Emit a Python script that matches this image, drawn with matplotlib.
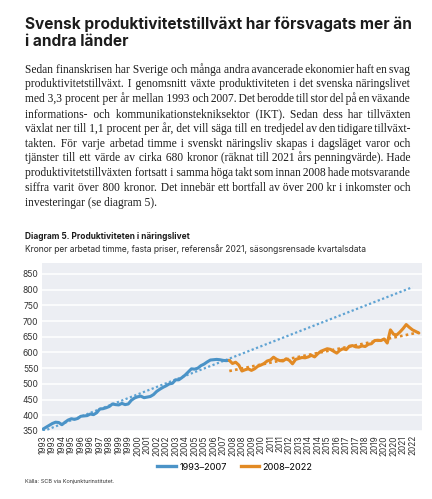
import matplotlib.pyplot as plt
from matplotlib.lines import Line2D

# quarterly index 0 = 1993 Q1
blue_x = list(range(0, 60))
blue_y = [356, 362, 368, 374, 378, 377, 370, 378, 385, 389,
          387, 390, 397, 398, 399, 404, 402, 408, 420, 421,
          424, 428, 436, 434, 433, 438, 434, 436, 448, 455,
          459, 461, 456, 458, 460, 466, 476, 483, 489, 494,
          500, 502, 513, 513, 520, 528, 538, 548, 547, 550,
          558, 563, 570, 576, 577, 578, 577, 575, 574, 575]

orange_x = list(range(59, 120))
orange_y = [575, 565, 569, 560, 541, 545, 548, 543, 548, 556,
            560, 565, 573, 576, 585, 578, 574, 573, 580, 575,
            564, 578, 581, 584, 583, 586, 591, 586, 596, 604,
            608, 612, 610, 604, 598, 607, 612, 609, 620, 622,
            618, 617, 621, 619, 626, 628, 638, 639, 638, 643,
            630, 672, 658, 656, 665, 676, 689, 680, 672, 667,
            662]

# trend lines (start / end)
blue_trend_x = [0, 117]
blue_trend_y = [349, 808]
orange_trend_x = [59, 119]
orange_trend_y = [541, 664]

tick_pos = list(range(0, 120, 3))
tick_labels = ['1993', '1993', '1994', '1995', '1996', '1996', '1997', '1998',
               '1999', '1999', '2000', '2001', '2002', '2002', '2003', '2004',
               '2005', '2005', '2006', '2007', '2008', '2008', '2009', '2010',
               '2011', '2011', '2012', '2013', '2014', '2014', '2015', '2016',
               '2017', '2017', '2018', '2019', '2020', '2020', '2021', '2022']

title_lines = ['Svensk produktivitetstillväxt har försvagats mer än',
               'i andra länder']
body_lines = [
    'Sedan finanskrisen har Sverige och många andra avancerade ekonomier haft en svag',
    'produktivitetstillväxt. I genomsnitt växte produktiviteten i det svenska näringslivet',
    'med 3,3 procent per år mellan 1993 och 2007. Det berodde till stor del på en växande',
    'informations- och kommunikationstekniksektor (IKT). Sedan dess har tillväxten',
    'växlat ner till 1,1 procent per år, det vill säga till en tredjedel av den tidigare tillväxt-',
    'takten. För varje arbetad timme i svenskt näringsliv skapas i dagsläget varor och',
    'tjänster till ett värde av cirka 680 kronor (räknat till 2021 års penningvärde). Hade',
    'produktivitetstillväxten fortsatt i samma höga takt som innan 2008 hade motsvarande',
    'siffra varit över 800 kronor. Det innebär ett bortfall av över 200 kr i inkomster och',
    'investeringar (se diagram 5).',
]

BLUE = '#4b93c7'
ORANGE = '#e28a24'
BG = '#eceef3'
TXT = '#1c1c1c'
SANS = ['Inter', 'DejaVu Sans']
SERIF = ['Liberation Serif', 'DejaVu Serif']
HAIR = '\u200a'

W, H = 432, 499
fig = plt.figure(figsize=(W / 100, H / 100), dpi=100)
fig.patch.set_facecolor('white')


def fx(x):
    return x / W


def fy(y):
    return 1 - y / H


# title
for i, line in enumerate(title_lines):
    fig.text(fx(25), fy(29 + i * 17), line, fontsize=11.1, fontweight='bold',
             family=SANS, color=TXT, va='baseline')

# justified body text, one text object per line, gaps made of hair spaces
renderer = fig.canvas.get_renderer()
left, right = 25, 410
min_gap = 1.9


def measure(s, size):
    t = fig.text(0, 0, s, fontsize=size, family=SERIF)
    w = t.get_window_extent(renderer).width
    t.remove()
    return w


ref = 10
sizes = []
for line in body_lines[:-1]:
    words = line.split(' ')
    ww = sum(measure(w, ref) for w in words)
    sizes.append(ref * (right - left - min_gap * (len(words) - 1)) / ww)
body_size = min(min(sizes), 9.2)
hair_w = (measure('a' + HAIR * 20 + 'a', body_size) - measure('aa', body_size)) / 20


def build(words, k):
    n = len(words) - 1
    gaps = [k // n + (1 if j < k % n else 0) for j in range(n)]
    return words[0] + ''.join(HAIR * g + w for g, w in zip(gaps, words[1:]))


for i, line in enumerate(body_lines):
    words = line.split(' ')
    if i < len(body_lines) - 1:
        ww = sum(measure(w, body_size) for w in words)
        k = max(round((right - left - ww) / hair_w), len(words) - 1)
        s = build(words, k)
        diff = (right - left) - measure(s, body_size)
        k = max(k + round(diff / hair_w), len(words) - 1)
        s = build(words, k)
    else:
        s = line
    fig.text(fx(left), fy(72.5 + i * 14.8), s, fontsize=body_size, family=SERIF,
             color=TXT, va='baseline')

# chart captions
fig.text(fx(25), fy(239.3), 'Diagram 5. Produktiviteten i näringslivet', fontsize=6.0,
         fontweight='bold', family=SANS, color=TXT, va='baseline')
fig.text(fx(25), fy(252.3), 'Kronor per arbetad timme, fasta priser, referensår 2021, '
         'säsongsrensade kvartalsdata', fontsize=6.1, family=SANS, color='#2a2a2a',
         va='baseline')

# chart
ax = fig.add_axes([fx(42), fy(431), (422 - 42) / W, (431 - 263) / H])
ax.set_facecolor(BG)
for s in ax.spines.values():
    s.set_visible(False)
ax.set_ylim(350, 885)
ax.set_xlim(-0.3, 120)
ax.set_yticks(range(350, 851, 50))
ax.grid(axis='y', color='white', linewidth=1.1)
ax.set_axisbelow(True)
ax.set_xticks(tick_pos)
ax.set_xticklabels(tick_labels, rotation=90, fontsize=6.0, family=SANS, color='#333')
ax.tick_params(axis='y', labelsize=6.1, colors='#333', length=0, pad=2.5)
ax.tick_params(axis='x', length=0, pad=3)
for lab in ax.get_yticklabels():
    lab.set_family(SANS)

ax.plot(blue_trend_x, blue_trend_y, color='#5fa3d3', linewidth=1.6,
        linestyle=(0, (1, 1.1)))
ax.plot(orange_trend_x, orange_trend_y, color=ORANGE, linewidth=1.9,
        linestyle=(0, (1, 1.2)))
ax.plot(blue_x, blue_y, color=BLUE, linewidth=2.2, solid_capstyle='round')
ax.plot(orange_x, orange_y, color=ORANGE, linewidth=2.2, solid_capstyle='round')

handles = [Line2D([], [], color=BLUE, linewidth=2.4),
           Line2D([], [], color=ORANGE, linewidth=2.4)]
fig.legend(handles, ['1993–2007', '2008–2022'], loc='center',
           bbox_to_anchor=(fx(235), fy(467)), ncol=2, frameon=False,
           prop={'family': SANS, 'size': 6.6}, handlelength=2.0,
           handletextpad=0.4, columnspacing=1.5)

fig.text(fx(25), fy(482), 'Källa: SCB via Konjunkturinstitutet.', fontsize=4.0,
         family=SANS, color='#333', va='center')

fig.savefig('out.png', dpi=100)
